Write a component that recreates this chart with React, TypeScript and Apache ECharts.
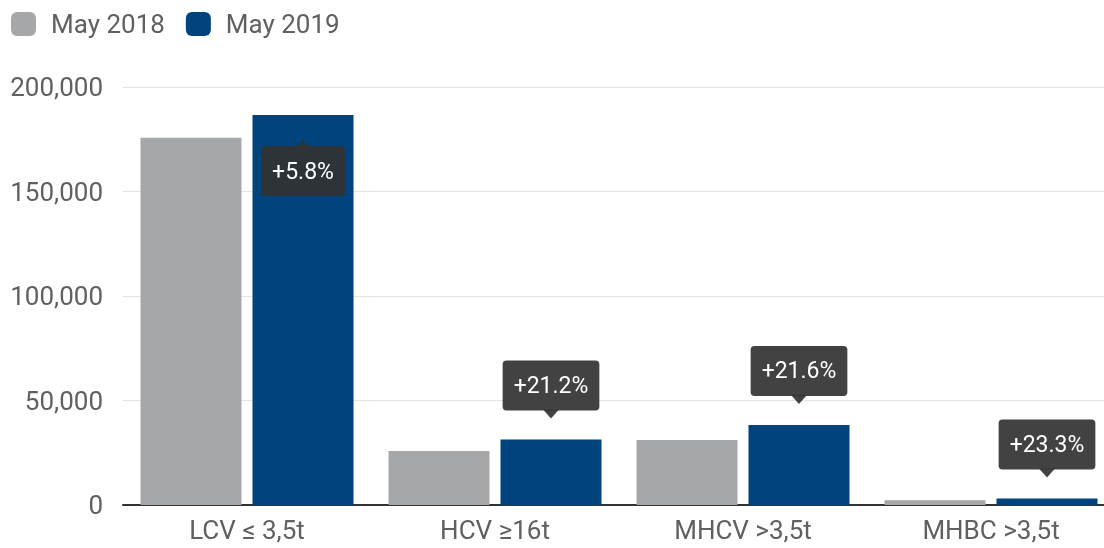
import React, { useEffect, useRef } from "react";
import * as echarts from "echarts";

const categories = ["LCV ≤ 3,5t", "HCV ≥16t", "MHCV >3,5t", "MHBC >3,5t"];
const may2018 = [175700, 25800, 31100, 2300];
const may2019 = [186600, 31300, 38300, 3100];
const changeLabels = ["+5.8%", "+21.2%", "+21.6%", "+23.3%"];
const yTicks = { min: 0, max: 200000, interval: 50000 };

const GRAY = "#a6a7a9";
const BLUE = "#01437c";
const CALLOUT = "rgba(50,50,50,0.92)";
const BAR_W = 101;
const BAR_GAP = 11;

export default function App() {
  const ref = useRef<HTMLDivElement>(null);
  useEffect(() => {
    if (!ref.current) return;
    const chart = echarts.init(ref.current, null, { renderer: "svg" });
    const calloutData = may2019.map((v, i) => [i, v, changeLabels[i]]);
    chart.setOption({
      animation: false,
      textStyle: { fontFamily: "Roboto" },
      legend: {
        data: ["May 2018", "May 2019"],
        left: 6,
        top: 6,
        itemWidth: 25,
        itemHeight: 24,
        itemGap: 21,
        icon: "roundRect",
        textStyle: {
          fontSize: 26,
          color: "#5f6062",
          fontFamily: "Roboto",
          padding: [0, 0, 0, 10],
        },
      },
      grid: {
        left: 123,
        top: 87,
        width: 992,
        bottom: 43,
        containLabel: false,
        outerBoundsMode: "none",
      },
      xAxis: {
        type: "category",
        data: categories,
        axisTick: { show: false },
        axisLine: { lineStyle: { color: "#333", width: 2 } },
        axisLabel: {
          fontSize: 26,
          color: "#5f6062",
          margin: 12,
          fontFamily: "Roboto",
        },
      },
      yAxis: {
        type: "value",
        min: yTicks.min,
        max: yTicks.max,
        interval: yTicks.interval,
        axisLine: { show: false },
        axisTick: { show: false },
        splitLine: { lineStyle: { color: "#e3e3e3", width: 1 } },
        axisLabel: {
          fontSize: 26,
          color: "#5f6062",
          margin: 20,
          fontFamily: "Roboto",
        },
      },
      series: [
        {
          name: "May 2018",
          type: "bar",
          data: may2018,
          barWidth: BAR_W,
          barGap: (BAR_GAP / BAR_W) * 100 + "%",
          itemStyle: { color: GRAY },
        },
        {
          name: "May 2019",
          type: "bar",
          data: may2019,
          barWidth: BAR_W,
          barGap: (BAR_GAP / BAR_W) * 100 + "%",
          itemStyle: { color: BLUE },
        },
        {
          type: "custom",
          name: "callouts",
          data: calloutData,
          z: 10,
          silent: true,
          renderItem: (params: any, api: any) => {
            const pt = api.coord([api.value(0), api.value(1)]);
            const cx = pt[0] + (BAR_W + BAR_GAP) / 2;
            const top = pt[1];
            const label = changeLabels[params.dataIndex];
            const gridTop = params.coordSys.y;
            const flip = top - 80 < gridTop - 20;
            let tip: number, baseY: number, textY: number;
            if (flip) {
              tip = top + 25;
              baseY = tip + 8;
              textY = tip + 31;
            } else {
              tip = top - 21;
              baseY = tip - 8;
              textY = tip - 33;
            }
            return {
              type: "group",
              children: [
                {
                  type: "polygon",
                  shape: {
                    points: [
                      [cx - 8, baseY + (flip ? 1 : -1)],
                      [cx + 8, baseY + (flip ? 1 : -1)],
                      [cx, tip],
                    ],
                  },
                  style: { fill: CALLOUT },
                },
                {
                  type: "text",
                  style: {
                    text: label,
                    x: cx,
                    y: textY,
                    align: "center",
                    verticalAlign: "middle",
                    fill: "#ffffff",
                    font: "23px Roboto",
                    lineHeight: 24,
                    backgroundColor: CALLOUT,
                    padding: [13, 11, 13, 11],
                    borderRadius: 4,
                  },
                },
              ],
            };
          },
        },
      ],
    });
    return () => chart.dispose();
  }, []);
  return (
    <div
      ref={ref}
      style={{ position: "fixed", left: 0, top: 0, width: 1104, height: 548 }}
    />
  );
}
